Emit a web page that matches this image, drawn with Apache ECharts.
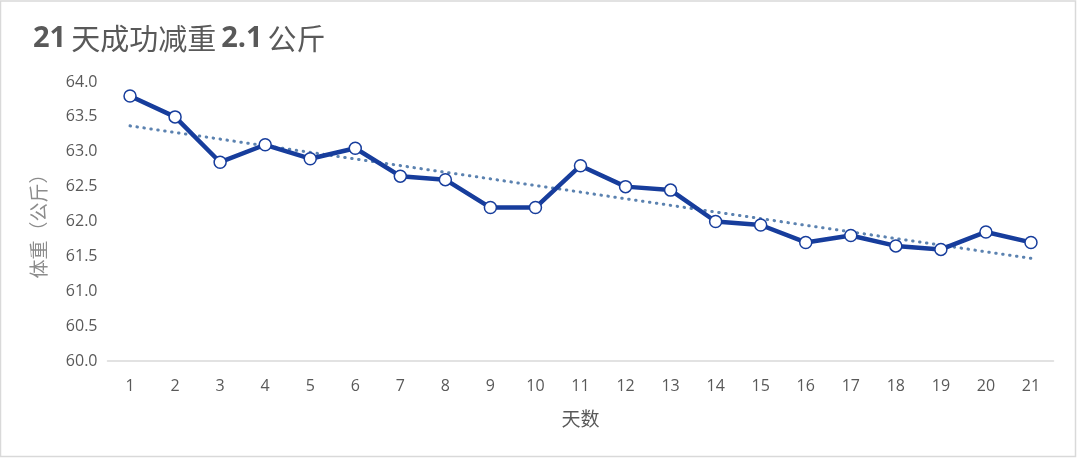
<!DOCTYPE html>
<html>
<head>
<meta charset="utf-8">
<script src="https://cdn.jsdelivr.net/npm/echarts@6/dist/echarts.min.js"></script>
<style>
html,body{margin:0;padding:0;background:#fff;}
#chart{width:1077px;height:459px;}
</style>
</head>
<body>
<div id="chart"></div>
<script>
var days = ['1','2','3','4','5','6','7','8','9','10','11','12','13','14','15','16','17','18','19','20','21'];
var weights = [63.8,63.5,62.85,63.1,62.9,63.05,62.65,62.6,62.2,62.2,62.8,62.5,62.45,62.0,61.95,61.7,61.8,61.65,61.6,61.85,61.7];
var yTicks = ['60.0','60.5','61.0','61.5','62.0','62.5','63.0','63.5','64.0'];

// linear trendline (least squares), as in the spreadsheet chart
var n = weights.length, sx = 0, sy = 0, sxy = 0, sxx = 0;
for (var i = 0; i < n; i++) { var x = i + 1; sx += x; sy += weights[i]; sxy += x * weights[i]; sxx += x * x; }
var slope = (n * sxy - sx * sy) / (n * sxx - sx * sx);
var intercept = (sy - slope * sx) / n;
var trend = weights.map(function (_, i) { return +(intercept + slope * (i + 1)).toFixed(4); });

var chart = echarts.init(document.getElementById('chart'));
var font = '"Open Sans","Noto Sans CJK SC",sans-serif';
chart.setOption({
  animation: false,
  backgroundColor: '#fff',
  title: {
    left: 28, top: 19,
    text: '{b|21} {n|天成功减重} {b|2.1} {n|公斤}',
    textStyle: {
      rich: {
        b: { fontSize: 29, fontWeight: 'bold', color: '#595959', fontFamily: font },
        n: { fontSize: 29, fontWeight: 'normal', color: '#595959', fontFamily: '"Noto Sans CJK SC",sans-serif' }
      }
    }
  },
  graphic: [{
    type: 'rect', silent: true, z: 100,
    shape: { x: 0.5, y: 1, width: 1075, height: 455.5 },
    style: { fill: 'none', stroke: '#d9d9d9', lineWidth: 1.5 }
  }],
  grid: { left: 107.5, right: 23.5, top: 82, bottom: 98 },
  xAxis: {
    type: 'category',
    data: days,
    boundaryGap: true,
    name: '天数',
    nameLocation: 'middle',
    nameGap: 48,
    nameTextStyle: { fontSize: 19, color: '#595959', fontFamily: '"Noto Sans CJK SC",sans-serif' },
    axisLine: { lineStyle: { color: '#d9d9d9', width: 1.5 } },
    axisTick: { show: false },
    axisLabel: { color: '#595959', fontSize: 16, margin: 17, fontFamily: font }
  },
  yAxis: {
    type: 'value',
    min: 60, max: 64, interval: 0.5,
    name: '体重（公斤）',
    nameLocation: 'middle',
    nameGap: 59,
    nameTextStyle: { fontSize: 19, color: '#8c8c8c', fontFamily: '"Noto Sans CJK SC",sans-serif' },
    axisLine: { show: false },
    axisTick: { show: false },
    splitLine: { show: false },
    axisLabel: {
      color: '#595959', fontSize: 16, margin: 10, fontFamily: font,
      formatter: function (v) { var s = v.toFixed(1); return yTicks.indexOf(s) >= 0 ? s : ''; }
    }
  },
  series: [
    {
      name: '体重', type: 'line', data: weights, z: 3,
      lineStyle: { color: '#173d9c', width: 4.5 },
      symbol: 'circle', symbolSize: 12, showSymbol: true,
      itemStyle: { color: '#ffffff', borderColor: '#173d9c', borderWidth: 1.5 }
    },
    {
      name: '趋势', type: 'line', data: trend, z: 2,
      symbol: 'none',
      lineStyle: { color: '#5b82b0', width: 3, type: [0.5, 6.5], cap: 'round' }
    }
  ]
});
</script>
</body>
</html>
